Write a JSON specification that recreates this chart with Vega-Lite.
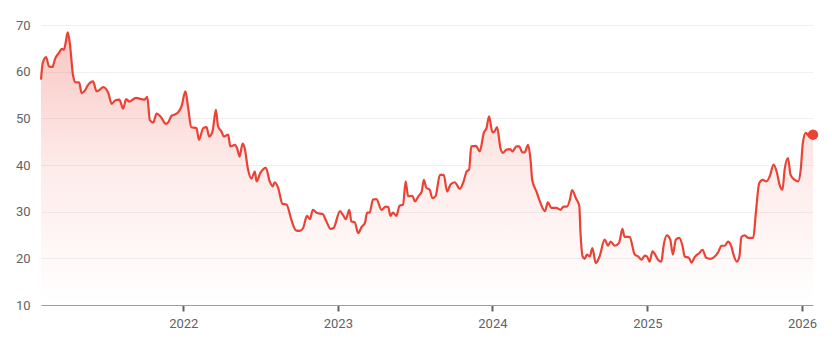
{
  "$schema": "https://vega.github.io/schema/vega-lite/v6.json",
  "width": 772,
  "height": 280,
  "autosize": "none",
  "padding": {"left": 41, "top": 25, "right": 19, "bottom": 37},
  "background": "white",
  "config": {
    "view": {"stroke": null},
    "font": "Roboto",
    "axis": {"labelFont": "Roboto", "labelFontSize": 13, "labelColor": "#5f6368"}
  },
  "data": {
    "values": [
      {"date": "2021-01-30", "price": 58.3}, {"date": "2021-02-03", "price": 61.8}, {"date": "2021-02-11", "price": 63.1},
      {"date": "2021-02-18", "price": 61.1}, {"date": "2021-02-26", "price": 61.0}, {"date": "2021-03-04", "price": 62.7},
      {"date": "2021-03-14", "price": 64.1}, {"date": "2021-03-20", "price": 64.9}, {"date": "2021-03-25", "price": 64.7},
      {"date": "2021-03-29", "price": 66.1}, {"date": "2021-04-03", "price": 68.4}, {"date": "2021-04-08", "price": 66.1},
      {"date": "2021-04-16", "price": 59.0}, {"date": "2021-04-22", "price": 57.7}, {"date": "2021-04-30", "price": 57.7},
      {"date": "2021-05-06", "price": 55.4}, {"date": "2021-05-14", "price": 56.0}, {"date": "2021-05-20", "price": 57.0},
      {"date": "2021-06-02", "price": 57.9}, {"date": "2021-06-10", "price": 55.8}, {"date": "2021-06-16", "price": 56.0},
      {"date": "2021-06-26", "price": 56.7}, {"date": "2021-07-08", "price": 55.4}, {"date": "2021-07-16", "price": 53.1},
      {"date": "2021-07-24", "price": 53.8}, {"date": "2021-08-03", "price": 54.0}, {"date": "2021-08-12", "price": 52.1},
      {"date": "2021-08-19", "price": 54.1}, {"date": "2021-08-27", "price": 53.6}, {"date": "2021-09-11", "price": 54.4},
      {"date": "2021-09-25", "price": 54.1}, {"date": "2021-10-01", "price": 54.0}, {"date": "2021-10-08", "price": 54.6},
      {"date": "2021-10-14", "price": 49.6}, {"date": "2021-10-22", "price": 49.1}, {"date": "2021-10-30", "price": 51.0},
      {"date": "2021-11-09", "price": 50.3}, {"date": "2021-11-21", "price": 48.8}, {"date": "2021-11-26", "price": 49.1},
      {"date": "2021-12-05", "price": 50.6}, {"date": "2021-12-12", "price": 50.8}, {"date": "2021-12-20", "price": 51.3},
      {"date": "2021-12-28", "price": 52.6}, {"date": "2022-01-06", "price": 55.8}, {"date": "2022-01-12", "price": 52.6},
      {"date": "2022-01-20", "price": 48.1}, {"date": "2022-02-01", "price": 47.9}, {"date": "2022-02-07", "price": 45.4},
      {"date": "2022-02-17", "price": 47.9}, {"date": "2022-02-25", "price": 48.1}, {"date": "2022-03-03", "price": 46.1},
      {"date": "2022-03-11", "price": 47.2}, {"date": "2022-03-19", "price": 51.8}, {"date": "2022-03-24", "price": 48.3},
      {"date": "2022-04-01", "price": 47.2}, {"date": "2022-04-07", "price": 46.1}, {"date": "2022-04-17", "price": 46.5},
      {"date": "2022-04-22", "price": 44.0}, {"date": "2022-05-03", "price": 44.3}, {"date": "2022-05-08", "price": 43.6},
      {"date": "2022-05-14", "price": 41.8}, {"date": "2022-05-21", "price": 44.6}, {"date": "2022-05-26", "price": 43.6},
      {"date": "2022-06-03", "price": 39.0}, {"date": "2022-06-11", "price": 37.1}, {"date": "2022-06-19", "price": 38.6},
      {"date": "2022-06-23", "price": 36.5}, {"date": "2022-07-02", "price": 38.3}, {"date": "2022-07-15", "price": 39.4},
      {"date": "2022-07-24", "price": 36.5}, {"date": "2022-07-31", "price": 35.4}, {"date": "2022-08-05", "price": 36.3},
      {"date": "2022-08-13", "price": 35.1}, {"date": "2022-08-23", "price": 31.7}, {"date": "2022-09-02", "price": 31.5},
      {"date": "2022-09-13", "price": 28.3}, {"date": "2022-09-24", "price": 26.0}, {"date": "2022-10-03", "price": 25.9},
      {"date": "2022-10-11", "price": 26.5}, {"date": "2022-10-20", "price": 29.1}, {"date": "2022-10-27", "price": 28.4},
      {"date": "2022-11-03", "price": 30.4}, {"date": "2022-11-13", "price": 29.7}, {"date": "2022-11-26", "price": 29.5},
      {"date": "2022-12-05", "price": 27.9}, {"date": "2022-12-15", "price": 26.3}, {"date": "2022-12-22", "price": 26.5},
      {"date": "2023-01-06", "price": 30.1}, {"date": "2023-01-13", "price": 29.3}, {"date": "2023-01-20", "price": 28.4},
      {"date": "2023-01-28", "price": 30.4}, {"date": "2023-02-02", "price": 27.9}, {"date": "2023-02-10", "price": 27.7},
      {"date": "2023-02-18", "price": 25.4}, {"date": "2023-02-26", "price": 26.7}, {"date": "2023-03-06", "price": 27.6},
      {"date": "2023-03-11", "price": 29.8}, {"date": "2023-03-17", "price": 29.8}, {"date": "2023-03-25", "price": 32.6},
      {"date": "2023-04-02", "price": 32.7}, {"date": "2023-04-14", "price": 30.4}, {"date": "2023-04-24", "price": 31.1},
      {"date": "2023-04-30", "price": 31.0}, {"date": "2023-05-05", "price": 29.1}, {"date": "2023-05-11", "price": 29.8},
      {"date": "2023-05-19", "price": 29.1}, {"date": "2023-05-27", "price": 31.3}, {"date": "2023-06-04", "price": 31.5},
      {"date": "2023-06-10", "price": 36.5}, {"date": "2023-06-16", "price": 33.3}, {"date": "2023-06-26", "price": 33.4},
      {"date": "2023-07-02", "price": 32.2}, {"date": "2023-07-10", "price": 33.3}, {"date": "2023-07-18", "price": 34.3},
      {"date": "2023-07-23", "price": 36.8}, {"date": "2023-07-29", "price": 35.1}, {"date": "2023-08-06", "price": 34.7},
      {"date": "2023-08-12", "price": 32.9}, {"date": "2023-08-20", "price": 33.4}, {"date": "2023-08-30", "price": 37.9},
      {"date": "2023-09-08", "price": 37.9}, {"date": "2023-09-16", "price": 34.3}, {"date": "2023-09-24", "price": 35.8},
      {"date": "2023-10-04", "price": 36.3}, {"date": "2023-10-16", "price": 34.9}, {"date": "2023-10-25", "price": 36.5},
      {"date": "2023-11-01", "price": 38.6}, {"date": "2023-11-07", "price": 39.0}, {"date": "2023-11-12", "price": 44.0},
      {"date": "2023-11-23", "price": 44.1}, {"date": "2023-12-02", "price": 42.9}, {"date": "2023-12-12", "price": 47.0},
      {"date": "2023-12-18", "price": 47.9}, {"date": "2023-12-24", "price": 50.4}, {"date": "2024-01-01", "price": 47.0},
      {"date": "2024-01-06", "price": 47.2}, {"date": "2024-01-12", "price": 48.1}, {"date": "2024-01-20", "price": 43.6},
      {"date": "2024-01-26", "price": 42.6}, {"date": "2024-02-03", "price": 43.3}, {"date": "2024-02-12", "price": 43.4},
      {"date": "2024-02-17", "price": 42.9}, {"date": "2024-02-27", "price": 44.0}, {"date": "2024-03-04", "price": 44.0},
      {"date": "2024-03-12", "price": 42.7}, {"date": "2024-03-17", "price": 42.7}, {"date": "2024-03-25", "price": 44.3},
      {"date": "2024-03-31", "price": 41.1}, {"date": "2024-04-04", "price": 36.8}, {"date": "2024-04-14", "price": 34.3},
      {"date": "2024-04-22", "price": 32.2}, {"date": "2024-05-04", "price": 30.1}, {"date": "2024-05-11", "price": 32.0},
      {"date": "2024-05-19", "price": 30.8}, {"date": "2024-05-31", "price": 30.8}, {"date": "2024-06-10", "price": 30.4},
      {"date": "2024-06-17", "price": 31.1}, {"date": "2024-06-25", "price": 31.1}, {"date": "2024-07-02", "price": 32.6},
      {"date": "2024-07-07", "price": 34.6}, {"date": "2024-07-17", "price": 32.7}, {"date": "2024-07-24", "price": 31.3},
      {"date": "2024-07-27", "price": 25.4}, {"date": "2024-08-01", "price": 20.4}, {"date": "2024-08-06", "price": 19.9},
      {"date": "2024-08-11", "price": 20.8}, {"date": "2024-08-18", "price": 20.4}, {"date": "2024-08-24", "price": 22.2},
      {"date": "2024-09-01", "price": 19.0}, {"date": "2024-09-10", "price": 20.4}, {"date": "2024-09-22", "price": 24.0},
      {"date": "2024-09-30", "price": 22.7}, {"date": "2024-10-06", "price": 23.6}, {"date": "2024-10-16", "price": 22.7},
      {"date": "2024-10-26", "price": 23.3}, {"date": "2024-11-03", "price": 26.3}, {"date": "2024-11-08", "price": 24.6},
      {"date": "2024-11-20", "price": 24.6}, {"date": "2024-12-02", "price": 20.8}, {"date": "2024-12-10", "price": 20.4},
      {"date": "2024-12-18", "price": 19.7}, {"date": "2024-12-26", "price": 20.6}, {"date": "2024-12-31", "price": 20.4},
      {"date": "2025-01-06", "price": 19.3}, {"date": "2025-01-13", "price": 21.5}, {"date": "2025-01-18", "price": 21.0},
      {"date": "2025-01-26", "price": 19.7}, {"date": "2025-02-03", "price": 19.3}, {"date": "2025-02-08", "price": 22.6},
      {"date": "2025-02-16", "price": 24.9}, {"date": "2025-02-24", "price": 24.0}, {"date": "2025-03-02", "price": 20.8},
      {"date": "2025-03-09", "price": 24.0}, {"date": "2025-03-17", "price": 24.4}, {"date": "2025-03-25", "price": 22.6},
      {"date": "2025-03-30", "price": 20.4}, {"date": "2025-04-09", "price": 20.1}, {"date": "2025-04-15", "price": 19.1},
      {"date": "2025-04-23", "price": 20.3}, {"date": "2025-05-03", "price": 21.1}, {"date": "2025-05-11", "price": 21.8},
      {"date": "2025-05-20", "price": 20.1}, {"date": "2025-05-30", "price": 19.9}, {"date": "2025-06-09", "price": 20.4},
      {"date": "2025-06-17", "price": 21.3}, {"date": "2025-06-25", "price": 22.7}, {"date": "2025-07-03", "price": 22.7},
      {"date": "2025-07-10", "price": 23.6}, {"date": "2025-07-18", "price": 22.6}, {"date": "2025-07-24", "price": 20.6},
      {"date": "2025-07-31", "price": 19.3}, {"date": "2025-08-06", "price": 20.3}, {"date": "2025-08-11", "price": 24.6},
      {"date": "2025-08-19", "price": 24.9}, {"date": "2025-08-27", "price": 24.4}, {"date": "2025-09-08", "price": 24.4},
      {"date": "2025-09-14", "price": 29.7}, {"date": "2025-09-22", "price": 36.1}, {"date": "2025-09-30", "price": 36.8},
      {"date": "2025-10-09", "price": 36.5}, {"date": "2025-10-17", "price": 37.6}, {"date": "2025-10-26", "price": 40.1},
      {"date": "2025-11-03", "price": 38.3}, {"date": "2025-11-09", "price": 35.8}, {"date": "2025-11-16", "price": 34.7},
      {"date": "2025-11-21", "price": 39.0}, {"date": "2025-11-29", "price": 41.5}, {"date": "2025-12-05", "price": 37.9},
      {"date": "2025-12-15", "price": 36.8}, {"date": "2025-12-23", "price": 36.5}, {"date": "2025-12-29", "price": 39.0},
      {"date": "2026-01-03", "price": 44.7}, {"date": "2026-01-10", "price": 46.9}, {"date": "2026-01-18", "price": 46.1},
      {"date": "2026-01-27", "price": 46.5}
    ]
  },
  "encoding": {
    "x": {
      "field": "date",
      "type": "temporal",
      "scale": {"domain": [{"year": 2021, "month": 1, "date": 30}, {"year": 2026, "month": 1, "date": 27}], "nice": false},
      "axis": {
        "title": null,
        "format": "%Y",
        "tickCount": {"interval": "year", "step": 1},
        "grid": false,
        "domainColor": "#9e9e9e",
        "domainWidth": 1,
        "tickColor": "#5f6368",
        "tickWidth": 2,
        "tickSize": 6,
        "labelPadding": 6,
        "labelFlush": false
      }
    },
    "y": {
      "field": "price",
      "type": "quantitative",
      "scale": {"domain": [10, 70], "nice": false, "zero": false},
      "axis": {
        "title": null,
        "values": [10, 20, 30, 40, 50, 60, 70],
        "domain": false,
        "ticks": false,
        "labelPadding": 11,
        "gridColor": "#f0f0f0",
        "gridWidth": 1
      }
    }
  },
  "layer": [
    {
      "mark": {
        "type": "area",
        "interpolate": "monotone",
        "color": {
          "gradient": "linear",
          "x1": 0, "y1": 0, "x2": 0, "y2": 1,
          "stops": [
            {"offset": 0, "color": "rgba(234,67,53,0.3)"},
            {"offset": 0.5, "color": "rgba(234,67,53,0.1)"},
            {"offset": 1, "color": "rgba(234,67,53,0)"}
          ]
        }
      },
      "encoding": {"y2": {"datum": 10}}
    },
    {
      "mark": {"type": "line", "interpolate": "monotone", "color": "#ea4335", "strokeWidth": 2.2}
    },
    {
      "transform": [
        {"window": [{"op": "row_number", "as": "r"}], "sort": [{"field": "date", "order": "descending"}]},
        {"filter": "datum.r == 1"}
      ],
      "mark": {"type": "point", "filled": true, "color": "#ea4335", "opacity": 1, "size": 110}
    }
  ]
}
